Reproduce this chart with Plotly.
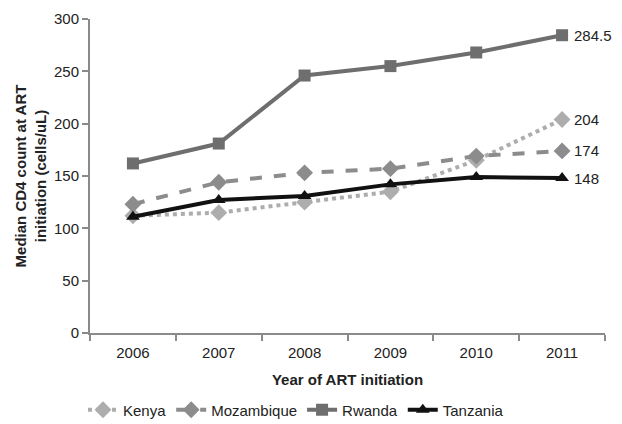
import plotly.graph_objects as go

years = ["2006", "2007", "2008", "2009", "2010", "2011"]
kenya = [112, 115, 125, 135, 165, 204]
mozambique = [123, 144, 153, 157, 169, 174]
rwanda = [162, 181, 246, 255, 268, 284.5]
tanzania = [111, 127, 131, 142, 149, 148]
end_labels = ["284.5", "204", "174", "148"]

series = [
    ("Kenya", kenya, "#adadad", "dot", "diamond", 13),
    ("Mozambique", mozambique, "#8c8c8c", "dash", "diamond", 13),
    ("Rwanda", rwanda, "#6e6e6e", "solid", "square", 12),
    ("Tanzania", tanzania, "#111111", "solid", "triangle-up", 12),
]

FONT = "Liberation Sans, Arial"

fig = go.Figure()
for name, vals, color, dash, sym, size in series:
    fig.add_trace(go.Scatter(
        x=years, y=vals, name=name, mode="lines+markers",
        line=dict(color=color, width=4, dash=dash),
        marker=dict(symbol=sym, size=size, color=color),
        cliponaxis=False,
    ))

# value labels beside the last year's markers (category index positions)
last = len(years) - 1
for vals, text in zip([rwanda, kenya, mozambique, tanzania], end_labels):
    fig.add_annotation(x=last, y=vals[-1], xref="x", yref="y", text=text,
                       showarrow=False, xanchor="left", xshift=10,
                       font=dict(family=FONT, size=15, color="#222222"))

fig.update_layout(
    width=622, height=424,
    margin=dict(l=90, r=17, t=19, b=91, autoexpand=False),
    paper_bgcolor="white", plot_bgcolor="white",
    font=dict(family=FONT, size=15, color="#222222"),
    showlegend=True,
    legend=dict(orientation="h", x=0.4, xanchor="center",
                yref="container", y=14 / 424, yanchor="middle",
                font=dict(size=15), tracegroupgap=0),
    xaxis=dict(
        type="category", categoryorder="array", categoryarray=years,
        range=[-0.5, len(years) - 0.5], tickangle=0, ticklabelstandoff=5,
        showgrid=False, showline=True, linecolor="#8a8a8a", linewidth=2,
        ticks="outside", tickson="boundaries", ticklen=6, tickcolor="#8a8a8a", tickwidth=2,
        title=dict(text="<b>Year of ART initiation</b>", standoff=14, font=dict(size=15)),
    ),
    yaxis=dict(
        range=[0, 300], dtick=50, showgrid=False, zeroline=False, showline=True,
        linecolor="#8a8a8a", linewidth=2, ticks="outside", ticklen=6,
        tickcolor="#8a8a8a", tickwidth=2,
        title=dict(text="<b>Median CD4 count at ART<br>initiation (cells/uL)</b>",
                   standoff=4, font=dict(size=15)),
    ),
)

fig.write_html("out.html")
